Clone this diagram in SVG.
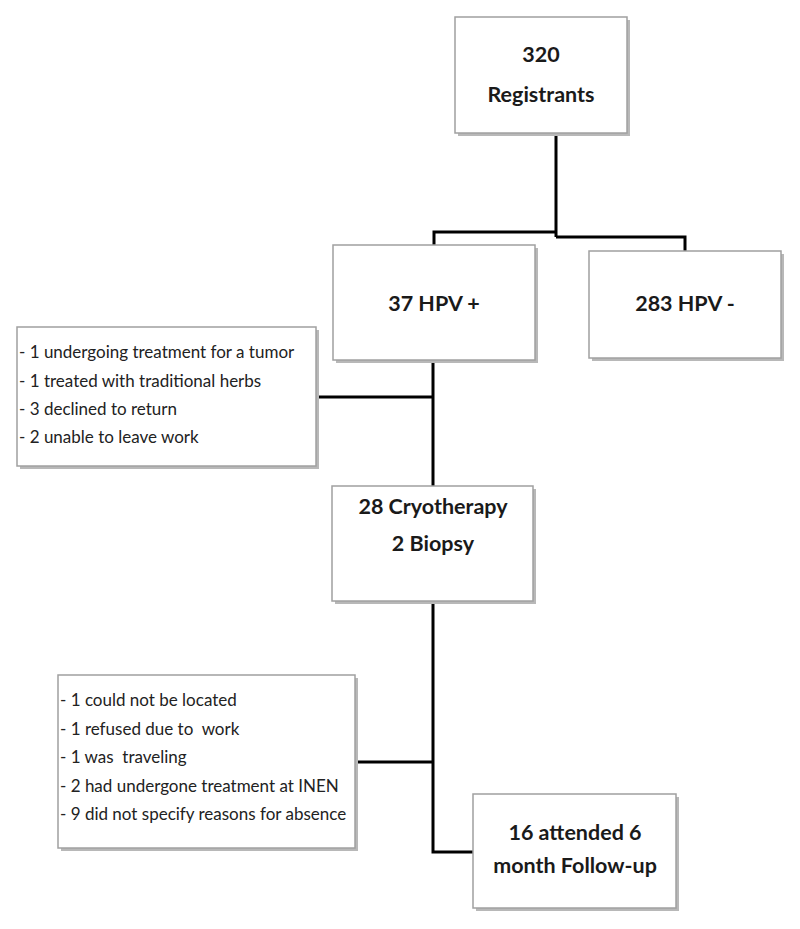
<svg xmlns="http://www.w3.org/2000/svg" width="800" height="929" viewBox="0 0 800 929">
<style>
.box{fill:#fff;stroke:#a0a0a0;stroke-width:1.5}
.sh{fill:#b8b8b8}
.t{font-family:Lato,"Liberation Sans",sans-serif;font-weight:bold;font-size:21.5px;fill:#1a1a1a;text-anchor:middle}
.s{font-family:Lato,"Liberation Sans",sans-serif;font-size:17px;fill:#222;white-space:pre}
.c{fill:none;stroke:#000;stroke-width:3}
</style>
<rect width="800" height="929" fill="#fff"/>
<g id="connectors">
<path class="c" d="M556 133V237M434 246V232H556M556 237H685V251"/>
<path class="c" d="M433 360V486M316 397H433"/>
<path class="c" d="M433 601V852H474M356 762H433"/>
</g>
<g id="registrants">
<rect class="sh" x="458" y="20" width="172" height="116"/>
<rect class="box" x="455" y="17" width="172" height="116"/>
<text class="t" x="541" y="62">320</text>
<text class="t" x="541" y="102">Registrants</text>
</g>
<g id="hpv-pos">
<rect class="sh" x="336" y="248" width="202" height="115"/>
<rect class="box" x="333" y="245" width="202" height="115"/>
<text class="t" x="434" y="311">37 HPV +</text>
</g>
<g id="hpv-neg">
<rect class="sh" x="592" y="254" width="192" height="107"/>
<rect class="box" x="589" y="251" width="192" height="107"/>
<text class="t" x="685" y="311">283 HPV -</text>
</g>
<g id="excl1">
<rect class="sh" x="20" y="330" width="299" height="139"/>
<rect class="box" x="17" y="327" width="299" height="139"/>
<text class="s" x="19" y="358">- 1 undergoing treatment for a tumor</text>
<text class="s" x="19" y="387">- 1 treated with traditional herbs</text>
<text class="s" x="19" y="415">- 3 declined to return</text>
<text class="s" x="19" y="443">- 2 unable to leave work</text>
</g>
<g id="cryo">
<rect class="sh" x="335" y="489" width="201" height="115"/>
<rect class="box" x="332" y="486" width="201" height="115"/>
<text class="t" x="433" y="514">28 Cryotherapy</text>
<text class="t" x="433" y="551">2 Biopsy</text>
</g>
<g id="excl2">
<rect class="sh" x="61" y="678" width="297" height="173"/>
<rect class="box" x="58" y="675" width="297" height="173"/>
<text class="s" x="60" y="706">- 1 could not be located</text>
<text class="s" x="60" y="735">- 1 refused due to  work</text>
<text class="s" x="60" y="763">- 1 was  traveling</text>
<text class="s" x="60" y="792">- 2 had undergone treatment at INEN</text>
<text class="s" x="60" y="820">- 9 did not specify reasons for absence</text>
</g>
<g id="followup">
<rect class="sh" x="476" y="797" width="203" height="114"/>
<rect class="box" x="473" y="794" width="203" height="114"/>
<text class="t" x="575" y="840">16 attended 6</text>
<text class="t" x="575" y="873">month Follow-up</text>
</g>
</svg>
